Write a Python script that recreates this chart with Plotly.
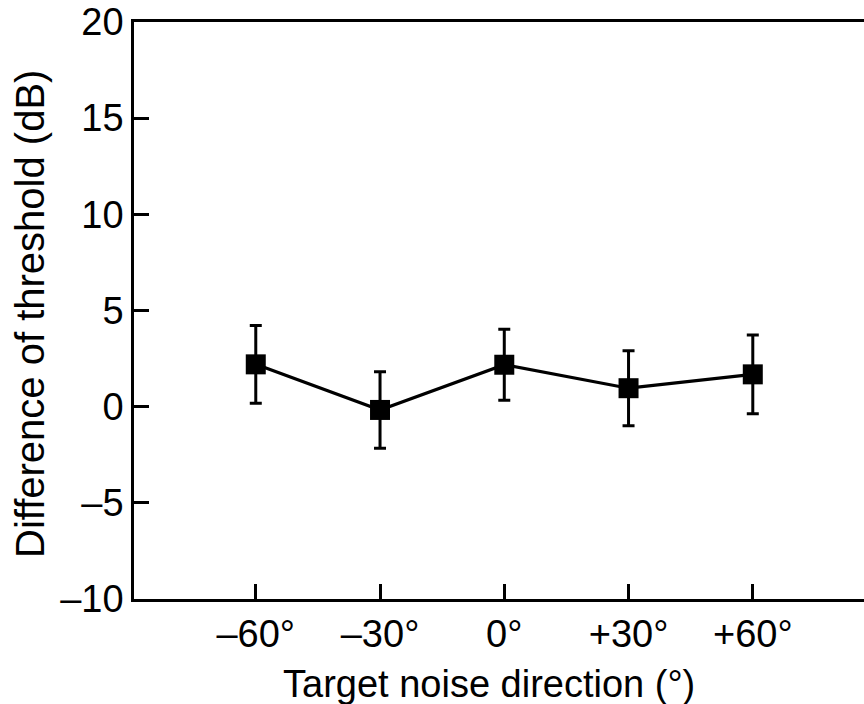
import plotly.graph_objects as go

categories = ["–60°", "–30°", "0°", "+30°", "+60°"]
means = [2.2, -0.17, 2.18, 0.96, 1.68]
errors = [2.02, 1.99, 1.85, 1.95, 2.05]
y_ticks = [-10, -5, 0, 5, 10, 15, 20]
y_tick_text = ["–10", "–5", "0", "5", "10", "15", "20"]

x_idx = list(range(len(categories)))
FONT = "Liberation Sans, Arial, Helvetica, sans-serif"

fig = go.Figure()
fig.add_trace(go.Scatter(
    x=x_idx, y=means,
    mode="lines+markers",
    line=dict(color="black", width=3.2),
    marker=dict(symbol="square", size=20, color="black"),
    error_y=dict(type="data", array=errors, visible=True,
                 color="black", thickness=3, width=6),
    showlegend=False,
))

fig.update_layout(
    width=864, height=704,
    margin=dict(l=134, r=0, t=22, b=105),
    plot_bgcolor="white", paper_bgcolor="white",
    font=dict(family=FONT, size=38, color="black"),
    xaxis=dict(
        range=[-0.98, 4.895],
        tickmode="array", tickvals=x_idx, ticktext=categories,
        ticks="inside", ticklen=15, tickwidth=2.5, tickcolor="black",
        showline=True, linecolor="black", linewidth=2.5, mirror=True,
        showgrid=False, zeroline=False,
        tickfont=dict(size=38),
    ),
    yaxis=dict(
        range=[-10, 20],
        tickmode="array", tickvals=y_ticks, ticktext=y_tick_text,
        ticks="inside", ticklen=15, tickwidth=2.5, tickcolor="black",
        showline=True, linecolor="black", linewidth=2.5, mirror=False,
        showgrid=False, zeroline=False,
        tickfont=dict(size=38),
    ),
    annotations=[
        dict(text="Target noise direction (°)", xref="paper", yref="paper",
             x=(488.5 - 134) / 730, y=-(661 - 599) / 577, xanchor="center", yanchor="top",
             showarrow=False, font=dict(size=38)),
        dict(text="Difference of threshold (dB)", xref="paper", yref="paper",
             x=-(134 - 6) / 730, y=(599 - 314) / 577, xanchor="left", yanchor="middle",
             textangle=-90, showarrow=False, font=dict(size=40)),
    ],
)

fig.write_html("out.html")
